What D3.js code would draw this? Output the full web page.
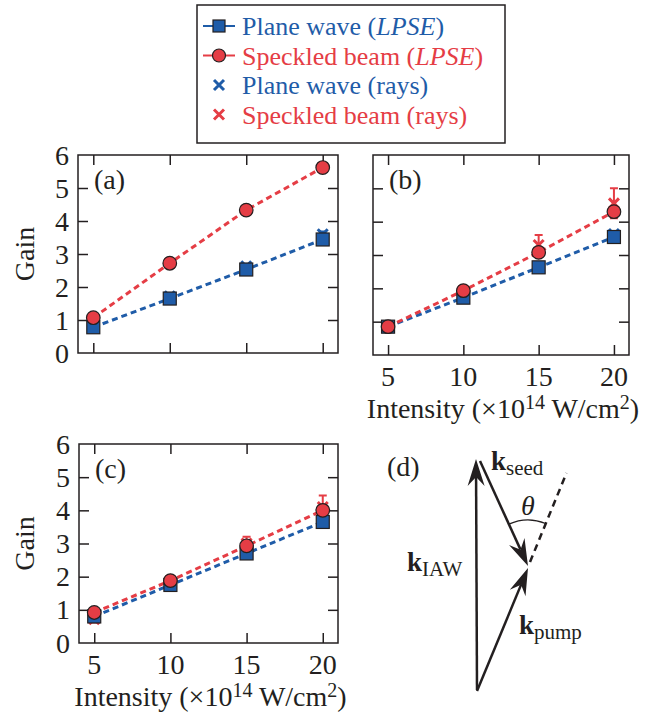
<!DOCTYPE html>
<html>
<head>
<meta charset="utf-8">
<script src="https://cdn.jsdelivr.net/npm/d3@7"></script>
<style>
  html, body { margin: 0; padding: 0; background: #fff; }
  svg { display: block; font-family: "Liberation Serif", "Times New Roman", serif; }
</style>
</head>
<body>
<svg id="fig" width="645" height="715"></svg>
<script>
// Laser intensity (x 10^14 W/cm^2) at which each case was run
const intensity = [5, 10, 15, 20];
const xTicks = [5, 10, 15, 20];
const yTicks = [0, 1, 2, 3, 4, 5, 6];

// Panel (a)
const planeLPSE_a = [0.78, 1.65, 2.53, 3.44];
const speckLPSE_a = [1.07, 2.72, 4.33, 5.62];
const planeRays_a = [0.82, 1.72, 2.63, 3.6];
const speckRays_a = [1.05, 2.72, 4.33, 5.62];
const planeRaysErr_a = [0.05, 0.06, 0.06, 0.08];
const speckRaysErr_a = [0.1, 0.15, 0.08, 0.1];

// Panel (b)
const planeLPSE_b = [0.85, 1.72, 2.63, 3.54];
const speckLPSE_b = [0.85, 1.93, 3.08, 4.3];
const planeRays_b = [0.85, 1.75, 2.63, 3.63];
const speckRays_b = [0.85, 1.93, 3.3, 4.55];
const planeRaysErr_b = [0.05, 0.05, 0.06, 0.08];
const speckRaysErr_b = [0.06, 0.1, 0.3, 0.45];

// Panel (c)
const planeLPSE_c = [0.8, 1.75, 2.7, 3.65];
const speckLPSE_c = [0.92, 1.88, 2.93, 4.0];
const planeRays_c = [0.78, 1.78, 2.75, 3.73];
const speckRays_c = [0.72, 1.88, 3.0, 4.1];
const planeRaysErr_c = [0.05, 0.05, 0.06, 0.08];
const speckRaysErr_c = [0.1, 0.08, 0.2, 0.35];

const legendLabels = [
  ["Plane wave (", "LPSE", ")"],
  ["Speckled beam (", "LPSE", ")"],
  ["Plane wave (rays)"],
  ["Speckled beam (rays)"]
];

const BLUE = "#1f5ca8";
const RED = "#e53d45";
const INK = "#231f20";
const FS = 28;   // axis text size
const SUP = 20;  // superscript size

const svg = d3.select("#fig");

const panels = [
  { tag: "(a)", box: [78, 155, 338, 353], plane: planeLPSE_a, speck: speckLPSE_a,
    pRays: planeRays_a, sRays: speckRays_a, pErr: planeRaysErr_a, sErr: speckRaysErr_a,
    yLabels: true, xLabels: false },
  { tag: "(b)", box: [373, 155, 629, 355], plane: planeLPSE_b, speck: speckLPSE_b,
    pRays: planeRays_b, sRays: speckRays_b, pErr: planeRaysErr_b, sErr: speckRaysErr_b,
    yLabels: false, xLabels: true },
  { tag: "(c)", box: [79, 444, 338, 643], plane: planeLPSE_c, speck: speckLPSE_c,
    pRays: planeRays_c, sRays: speckRays_c, pErr: planeRaysErr_c, sErr: speckRaysErr_c,
    yLabels: true, xLabels: true }
];

function crossPath(s) {
  return `M${-s},${-s}L${s},${s}M${-s},${s}L${s},${-s}`;
}

panels.forEach(p => {
  const [x0, y0, x1, y1] = p.box;
  const x = d3.scaleLinear().domain([4, 21]).range([x0, x1]);
  const y = d3.scaleLinear().domain([0, 6]).range([y1, y0]);
  const g = svg.append("g");
  const tl = 10;

  // inward ticks on all four sides
  const axes = [
    [d3.axisBottom(x).tickValues(xTicks).tickSize(tl), `translate(0,${y1})`, "bottom"],
    [d3.axisTop(x).tickValues(xTicks).tickSize(tl), `translate(0,${y0})`, "top"],
    [d3.axisLeft(y).tickValues(yTicks.slice(1, -1)).tickSize(tl), `translate(${x0},0)`, "left"],
    [d3.axisRight(y).tickValues(yTicks.slice(1, -1)).tickSize(tl), `translate(${x1},0)`, "right"]
  ];
  axes.forEach(([ax, tr, side]) => {
    const a = g.append("g").attr("transform", tr).call(ax.tickFormat(""));
    a.select(".domain").remove();
    a.selectAll(".tick line")
      .attr("stroke", INK).attr("stroke-width", 1.5)
      .attr(side === "bottom" || side === "top" ? "y2" : "x2",
            side === "bottom" || side === "right" ? -tl : tl);
  });
  g.append("rect").attr("x", x0).attr("y", y0).attr("width", x1 - x0).attr("height", y1 - y0)
    .attr("fill", "none").attr("stroke", INK).attr("stroke-width", 1.5);

  if (p.yLabels) {
    g.selectAll(".ylab").data(yTicks).join("text")
      .attr("x", x0 - 9).attr("y", d => y(d) + 9.5)
      .attr("text-anchor", "end").attr("font-size", FS).attr("fill", INK)
      .text(d => d);
    g.append("text")
      .attr("transform", `translate(34,${(y0 + y1) / 2}) rotate(-90)`)
      .attr("text-anchor", "middle").attr("font-size", FS).attr("fill", INK)
      .text("Gain");
  }
  if (p.xLabels) {
    g.selectAll(".xlab").data(xTicks).join("text")
      .attr("x", d => x(d)).attr("y", y1 + 31)
      .attr("text-anchor", "middle").attr("font-size", FS).attr("fill", INK)
      .text(d => d);
    const t = g.append("text")
      .attr("x", (x0 + x1) / 2 + 2).attr("y", y1 + 63)
      .attr("text-anchor", "middle").attr("font-size", FS).attr("fill", INK);
    t.append("tspan").text("Intensity (\u00d710");
    t.append("tspan").attr("font-size", SUP).attr("dy", -9).text("14");
    t.append("tspan").attr("dy", 9).text(" W/cm");
    t.append("tspan").attr("font-size", SUP).attr("dy", -9).text("2");
    t.append("tspan").attr("dy", 9).text(")");
  }
  g.append("text").attr("x", x0 + 16).attr("y", y0 + 34)
    .attr("font-size", FS).attr("fill", INK).text(p.tag);

  const line = vals => d3.line().x((d, i) => x(intensity[i])).y(d => y(d))(vals);

  // dashed guides through the LPSE results
  [[p.plane, BLUE], [p.speck, RED]].forEach(([vals, c]) => {
    g.append("path").attr("d", line(vals)).attr("fill", "none")
      .attr("stroke", c).attr("stroke-width", 3).attr("stroke-dasharray", "6,4");
  });

  // ray-tracing results with error bars
  [[p.pRays, p.pErr, BLUE], [p.sRays, p.sErr, RED]].forEach(([vals, err, c]) => {
    vals.forEach((v, i) => {
      const cx = x(intensity[i]);
      const top = y(v + err[i]), bot = y(v - err[i]);
      g.append("path")
        .attr("d", `M${cx},${top}L${cx},${bot}M${cx - 4},${top}L${cx + 4},${top}M${cx - 4},${bot}L${cx + 4},${bot}`)
        .attr("stroke", c).attr("stroke-width", 2).attr("fill", "none");
      g.append("path").attr("transform", `translate(${cx},${y(v)})`)
        .attr("d", crossPath(5)).attr("stroke", c).attr("stroke-width", 3).attr("fill", "none");
    });
  });

  // LPSE results
  p.plane.forEach((v, i) => {
    g.append("rect").attr("x", x(intensity[i]) - 6.5).attr("y", y(v) - 6.5)
      .attr("width", 13).attr("height", 13)
      .attr("fill", BLUE).attr("stroke", INK).attr("stroke-width", 1.2);
  });
  p.speck.forEach((v, i) => {
    g.append("circle").attr("cx", x(intensity[i])).attr("cy", y(v)).attr("r", 6.8)
      .attr("fill", RED).attr("stroke", INK).attr("stroke-width", 1.2);
  });
});

// Legend
const lg = svg.append("g");
lg.append("rect").attr("x", 197).attr("y", 5).attr("width", 308).attr("height", 138)
  .attr("fill", "#fff").attr("stroke", INK).attr("stroke-width", 1.5);
legendLabels.forEach((parts, i) => {
  const cy = 26 + i * 29.5;
  const c = i % 2 === 0 ? BLUE : RED;
  if (i < 2) {
    lg.append("line").attr("x1", 203).attr("x2", 235).attr("y1", cy).attr("y2", cy)
      .attr("stroke", c).attr("stroke-width", 2);
    if (i === 0) {
      lg.append("rect").attr("x", 213).attr("y", cy - 6).attr("width", 12).attr("height", 12)
        .attr("fill", BLUE).attr("stroke", INK).attr("stroke-width", 1.2);
    } else {
      lg.append("circle").attr("cx", 219).attr("cy", cy).attr("r", 6.5)
        .attr("fill", RED).attr("stroke", INK).attr("stroke-width", 1.2);
    }
  } else {
    lg.append("path").attr("transform", `translate(219,${cy})`).attr("d", crossPath(5))
      .attr("stroke", c).attr("stroke-width", 3).attr("fill", "none");
  }
  const t = lg.append("text").attr("x", 242).attr("y", cy + 9)
    .attr("font-size", 26).attr("fill", c);
  t.append("tspan").text(parts[0]);
  if (parts.length > 1) {
    t.append("tspan").attr("font-style", "italic").text(parts[1]);
    t.append("tspan").text(parts[2]);
  }
});

// Panel (d): wave-vector matching diagram
const dg = svg.append("g");
const dx = d3.scaleLinear().domain([0, 1]).range([476, 576]);
const dy = d3.scaleLinear().domain([0, 1]).range([690, 590]);
const tip = { x: 0.52, y: 1.24 };
const vecs = [
  { from: { x: 0.01, y: 0 }, to: { x: 0, y: 2.31 } },        // k_IAW
  { from: { x: 0.04, y: 2.29 }, to: tip },                   // k_seed
  { from: { x: 0.01, y: -0.01 }, to: { x: 0.52, y: 1.22 } }  // k_pump
];
function arrow(v) {
  const x1 = dx(v.from.x), y1 = dy(v.from.y), x2 = dx(v.to.x), y2 = dy(v.to.y);
  const ang = Math.atan2(y2 - y1, x2 - x1);
  const L = 27, W = 8.5, notch = 18;
  const bx = x2 - Math.cos(ang) * notch, by = y2 - Math.sin(ang) * notch;
  dg.append("line").attr("x1", x1).attr("y1", y1).attr("x2", bx).attr("y2", by)
    .attr("stroke", INK).attr("stroke-width", 2.5);
  const px = -Math.sin(ang), py = Math.cos(ang);
  const ex = x2 - Math.cos(ang) * L, ey = y2 - Math.sin(ang) * L;
  dg.append("path")
    .attr("d", `M${x2},${y2}L${ex + px * W},${ey + py * W}L${bx},${by}L${ex - px * W},${ey - py * W}Z`)
    .attr("fill", INK);
}
vecs.forEach(arrow);
// dashed continuation of the pump direction
dg.append("line").attr("x1", dx(0.54)).attr("y1", dy(1.28)).attr("x2", dx(0.905)).attr("y2", dy(2.17))
  .attr("stroke", INK).attr("stroke-width", 2.5).attr("stroke-dasharray", "7,5");
// angle arc between seed and pump direction
const cx = dx(tip.x), cy = dy(tip.y), r = 46;
const a1 = Math.atan2(dy(2.29) - cy, dx(0.04) - cx);
const a2 = Math.atan2(dy(2.17) - cy, dx(0.905) - cx);
const arc = d3.path();
arc.arc(cx, cy, r, a1, a2, false);
dg.append("path").attr("d", arc.toString()).attr("fill", "none").attr("stroke", INK).attr("stroke-width", 1.3);
dg.append("text").attr("x", 521).attr("y", 515).attr("font-size", 28).attr("font-style", "italic")
  .attr("fill", INK).text("\u03b8");
dg.append("text").attr("x", 387).attr("y", 476).attr("font-size", FS).attr("fill", INK).text("(d)");

function kLabel(x, y, sub) {
  const t = dg.append("text").attr("x", x).attr("y", y).attr("fill", INK).attr("font-size", 27);
  t.append("tspan").attr("font-weight", "bold").text("k");
  t.append("tspan").attr("font-size", 21).attr("dy", 5).text(sub);
}
kLabel(491, 470, "seed");
kLabel(407, 571, "IAW");
kLabel(519, 634, "pump");
</script>
</body>
</html>
